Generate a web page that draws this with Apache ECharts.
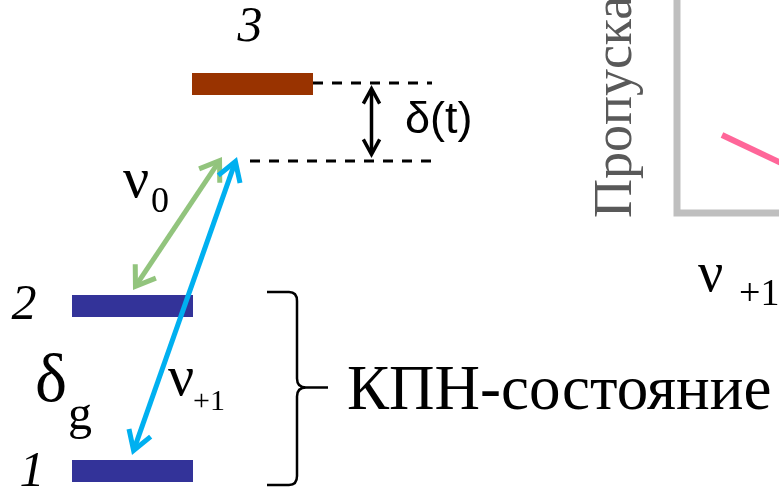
<!DOCTYPE html>
<html>
<head>
<meta charset="utf-8">
<script src="https://cdn.jsdelivr.net/npm/echarts@6/dist/echarts.min.js"></script>
<style>
  html, body { margin: 0; padding: 0; background: #ffffff; }
  #chart { width: 779px; height: 488px; }
</style>
</head>
<body>
<div id="chart"></div>
<script>
// Energy levels of the Λ-scheme: label, horizontal extent and level position
const levelNames = ['1', '2', '3'];
const levelLeft = [72, 72, 192];
const levelRight = [193, 193, 313];
const levelPos = [471, 306, 84];

// Double-headed transitions: [x1, y1, x2, y2]
const transitionNames = ['ν0', 'ν+1', 'δ(t)'];
const transitions = [
  [133, 290, 222, 157],
  [132, 455, 237, 157],
  [371.5, 85, 371.5, 158]
];

// Detuning reference lines (level 3 and the virtual level)
const detuneTop = [[313, 83], [432, 83]];
const detuneBottom = [[250, 161], [432, 161]];

// Transmission inset: axes corner and the start of the curve
const insetAxis = [[677, -10], [677, 213], [790, 213]];
const insetCurve = [[722, 135], [800, 172]];

// Group brace for the CPT state (levels 1 and 2)
const braceTop = 292;
const braceBottom = 485;

// Text content
const labelTexts = ['3', '2', '1', 'δ', 'g', 'ν', '0', 'ν', '+1', 'ν', '+1', 'δ(t)', 'КПН-состояние', 'Пропускание'];

const serif = '"Liberation Serif", "DejaVu Serif", serif';
const sans = '"Liberation Sans", "DejaVu Sans", sans-serif';

const labelLayout = [
  { x: 250, y: 28, size: 50, font: serif, italic: true, align: 'center' },
  { x: 24, y: 306, size: 50, font: serif, italic: true, align: 'center' },
  { x: 32, y: 473, size: 50, font: serif, italic: true, align: 'center' },
  { x: 51, y: 383, size: 68, font: serif, align: 'center' },
  { x: 68, y: 416, size: 48, font: serif, align: 'left' },
  { x: 123, y: 182, size: 58, font: serif, align: 'left' },
  { x: 151, y: 203, size: 36, font: serif, align: 'left' },
  { x: 168, y: 380, size: 58, font: serif, align: 'left' },
  { x: 193, y: 402, size: 30, font: serif, align: 'left' },
  { x: 698, y: 276, size: 56, font: serif, align: 'left' },
  { x: 739, y: 295, size: 38, font: serif, align: 'left' },
  { x: 405, y: 121, size: 45, font: sans, align: 'left' },
  { x: 347, y: 392, size: 63, font: serif, align: 'left' },
  { x: 617, y: 218, size: 54, font: serif, align: 'left', rotate: true, color: '#595959' }
];

const levelColors = ['#333399', '#333399', '#993300'];
const arrowStyles = [
  { color: '#92C47D', width: 5, head: 22, angle: 0.6 },
  { color: '#00B0F0', width: 5, head: 22, angle: 0.55 },
  { color: '#000000', width: 3.5, head: 17, angle: 0.5 }
];

const chart = echarts.init(document.getElementById('chart'), null, { renderer: 'canvas' });

function levelItem(params, api) {
  const p0 = api.coord([api.value(0), api.value(2)]);
  const p1 = api.coord([api.value(1), api.value(2)]);
  return {
    type: 'rect',
    shape: { x: p0[0], y: p0[1] - 11, width: p1[0] - p0[0], height: 22 },
    style: { fill: levelColors[params.dataIndex] }
  };
}

function arrowItem(params, api) {
  const st = arrowStyles[params.dataIndex];
  let a = api.coord([api.value(0), api.value(1)]);
  let b = api.coord([api.value(2), api.value(3)]);
  const dx = b[0] - a[0], dy = b[1] - a[1];
  const L = Math.hypot(dx, dy);
  const ux = dx / L, uy = dy / L;
  // pull the tips in so the mitred point lands on the end coordinate
  const pull = st.width / 2 / Math.sin(st.angle);
  a = [a[0] + ux * pull, a[1] + uy * pull];
  b = [b[0] - ux * pull, b[1] - uy * pull];
  function head(tip, vx, vy) {
    const c = Math.cos(st.angle), s = Math.sin(st.angle);
    const p1 = [tip[0] + st.head * (vx * c - vy * s), tip[1] + st.head * (vx * s + vy * c)];
    const p2 = [tip[0] + st.head * (vx * c + vy * s), tip[1] + st.head * (-vx * s + vy * c)];
    return {
      type: 'polyline',
      shape: { points: [p1, tip, p2] },
      style: { stroke: st.color, lineWidth: st.width, fill: null, lineJoin: 'miter', lineCap: 'butt' }
    };
  }
  return {
    type: 'group',
    children: [
      {
        type: 'line',
        shape: { x1: a[0] + ux * 2, y1: a[1] + uy * 2, x2: b[0] - ux * 2, y2: b[1] - uy * 2 },
        style: { stroke: st.color, lineWidth: st.width, lineCap: 'butt' }
      },
      head(a, ux, uy),
      head(b, -ux, -uy)
    ]
  };
}

function braceItem(params, api) {
  const top = api.coord([267, api.value(0)]);
  const bot = api.coord([267, api.value(1)]);
  const x0 = top[0], xs = x0 + 30, xt = x0 + 61;
  const y0 = top[1], y1 = bot[1], ym = (y0 + y1) / 2 - 1;
  const path =
    'M' + x0 + ' ' + y0 +
    ' L' + (xs - 8) + ' ' + y0 +
    ' Q' + xs + ' ' + y0 + ' ' + xs + ' ' + (y0 + 9) +
    ' L' + xs + ' ' + (ym - 9) +
    ' Q' + xs + ' ' + ym + ' ' + (xs + 9) + ' ' + ym +
    ' L' + xt + ' ' + ym +
    ' M' + (xs + 9) + ' ' + ym +
    ' Q' + xs + ' ' + ym + ' ' + xs + ' ' + (ym + 9) +
    ' L' + xs + ' ' + (y1 - 9) +
    ' Q' + xs + ' ' + y1 + ' ' + (xs - 8) + ' ' + y1 +
    ' L' + x0 + ' ' + y1;
  return {
    type: 'path',
    shape: { pathData: path },
    style: { stroke: '#000000', lineWidth: 2.5, fill: null }
  };
}

function labelItem(params, api) {
  const lay = labelLayout[params.dataIndex];
  const p = api.coord([api.value(0), api.value(1)]);
  return {
    type: 'text',
    x: p[0],
    y: p[1],
    rotation: lay.rotate ? Math.PI / 2 : 0,
    style: {
      x: 0,
      y: 0,
      text: labelTexts[params.dataIndex],
      font: (lay.italic ? 'italic ' : '') + lay.size + 'px ' + lay.font,
      fill: lay.color || '#000000',
      align: lay.align,
      verticalAlign: 'middle'
    }
  };
}

const option = {
  backgroundColor: '#ffffff',
  animation: false,
  grid: { left: 0, right: 0, top: 0, bottom: 0 },
  xAxis: { type: 'value', min: 0, max: 779, show: false },
  yAxis: { type: 'value', min: 0, max: 488, inverse: true, show: false },
  series: [
    {
      name: 'inset axes',
      type: 'line',
      data: insetAxis,
      symbol: 'none',
      lineStyle: { color: '#BFBFBF', width: 7, join: 'miter', cap: 'butt' },
      silent: true
    },
    {
      name: 'transmission',
      type: 'line',
      data: insetCurve,
      symbol: 'none',
      lineStyle: { color: '#FF6699', width: 6, cap: 'butt' },
      silent: true
    },
    {
      name: 'level 3',
      type: 'line',
      data: detuneTop,
      symbol: 'none',
      lineStyle: { color: '#000000', width: 3, type: [10, 9] },
      silent: true
    },
    {
      name: 'virtual level',
      type: 'line',
      data: detuneBottom,
      symbol: 'none',
      lineStyle: { color: '#000000', width: 3, type: [10, 9] },
      silent: true
    },
    {
      name: 'levels',
      type: 'custom',
      renderItem: levelItem,
      data: levelNames.map((n, i) => [levelLeft[i], levelRight[i], levelPos[i]]),
      silent: true
    },
    {
      name: 'brace',
      type: 'custom',
      renderItem: braceItem,
      data: [[braceTop, braceBottom]],
      silent: true
    },
    {
      name: 'transitions',
      type: 'custom',
      renderItem: arrowItem,
      data: transitions,
      silent: true,
      z: 3
    },
    {
      name: 'labels',
      type: 'custom',
      renderItem: labelItem,
      data: labelLayout.map(l => [l.x, l.y]),
      silent: true,
      z: 4
    }
  ]
};

chart.setOption(option);
</script>
</body>
</html>
